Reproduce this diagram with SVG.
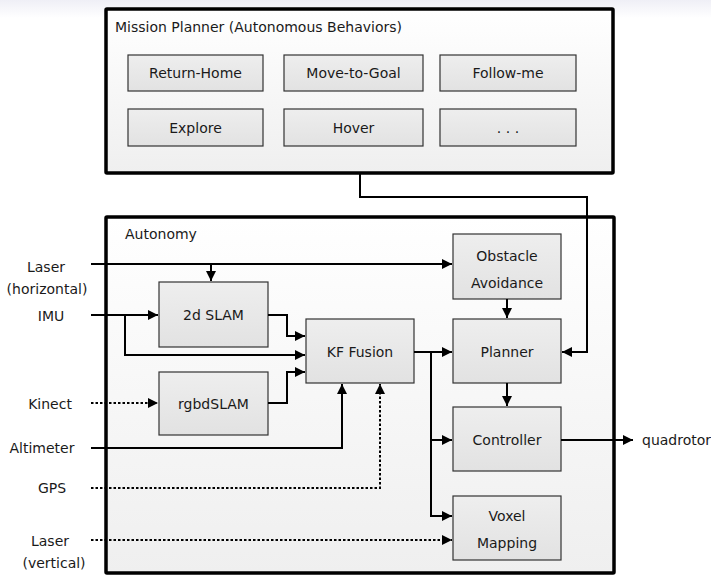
<svg xmlns="http://www.w3.org/2000/svg" width="711" height="576" viewBox="0 0 711 576">
<defs>
<linearGradient id="top" x1="0" y1="0" x2="0" y2="1"><stop offset="0" stop-color="#efeff6"/><stop offset="1" stop-color="#ffffff"/></linearGradient>
<linearGradient id="outer" x1="0" y1="0" x2="0" y2="1"><stop offset="0" stop-color="#ffffff"/><stop offset="1" stop-color="#efefef"/></linearGradient>
<linearGradient id="inner" x1="0" y1="0" x2="0" y2="1"><stop offset="0" stop-color="#eeeeee"/><stop offset="1" stop-color="#e2e2e2"/></linearGradient>
<marker id="ah" viewBox="0 0 10 10" refX="10" refY="5" markerWidth="11" markerHeight="10" markerUnits="userSpaceOnUse" orient="auto"><path d="M0,0 L10,5 L0,10 Z" fill="#000"/></marker>
</defs>
<style>
text{font-family:"DejaVu Sans","Liberation Sans",sans-serif;font-size:14px;fill:#1a1a1a}
.c{text-anchor:middle}
.outer{fill:url(#outer);stroke:#000;stroke-width:3.5}
.box{fill:url(#inner);stroke:#333;stroke-width:1.2}
.ln{fill:none;stroke:#000;stroke-width:2}
.dt{fill:none;stroke:#000;stroke-width:2;stroke-dasharray:2.5,2}
.a{marker-end:url(#ah)}
</style>
<rect x="0" y="0" width="711" height="18" fill="url(#top)"/>
<g id="mission">
<rect class="outer" x="106" y="9" width="507" height="164" rx="1"/>
<text x="115" y="32">Mission Planner (Autonomous Behaviors)</text>
</g>
<g id="return-home"><rect class="box" x="128" y="55" width="135" height="36"/><text class="c" x="195.5" y="78">Return-Home</text></g>
<g id="move-to-goal"><rect class="box" x="284" y="55" width="139" height="36"/><text class="c" x="353.5" y="78">Move-to-Goal</text></g>
<g id="follow-me"><rect class="box" x="440" y="55" width="136" height="36"/><text class="c" x="508" y="78">Follow-me</text></g>
<g id="explore"><rect class="box" x="128" y="109" width="135" height="37"/><text class="c" x="195.5" y="133">Explore</text></g>
<g id="hover"><rect class="box" x="284" y="109" width="139" height="37"/><text class="c" x="353.5" y="133">Hover</text></g>
<g id="more"><rect class="box" x="440" y="109" width="136" height="37"/><text class="c" x="508" y="133">. . .</text></g>
<g id="autonomy">
<rect class="outer" x="106" y="217" width="508" height="356" rx="1"/>
<text x="125" y="239">Autonomy</text>
</g>
<g id="slam2d"><rect class="box" x="159" y="282" width="109" height="65"/><text class="c" x="213.5" y="320">2d SLAM</text></g>
<g id="rgbdslam"><rect class="box" x="159" y="372" width="109" height="63"/><text class="c" x="213.5" y="409">rgbdSLAM</text></g>
<g id="kf"><rect class="box" x="306" y="319" width="108" height="64"/><text class="c" x="360" y="357">KF Fusion</text></g>
<g id="obstacle"><rect class="box" x="453" y="234" width="108" height="65"/><text class="c" x="507" y="261">Obstacle</text><text class="c" x="507" y="288">Avoidance</text></g>
<g id="planner"><rect class="box" x="453" y="319" width="108" height="64"/><text class="c" x="507" y="357">Planner</text></g>
<g id="controller"><rect class="box" x="453" y="407" width="108" height="64"/><text class="c" x="507" y="445">Controller</text></g>
<g id="voxel"><rect class="box" x="453" y="496" width="108" height="64"/><text class="c" x="507" y="521">Voxel</text><text class="c" x="507" y="548">Mapping</text></g>
<g id="labels">
<text class="c" x="46" y="272">Laser</text>
<text class="c" x="47" y="294">(horizontal)</text>
<text class="c" x="51" y="321">IMU</text>
<text class="c" x="50" y="409">Kinect</text>
<text class="c" x="42" y="453">Altimeter</text>
<text class="c" x="52" y="493">GPS</text>
<text class="c" x="50" y="546">Laser</text>
<text class="c" x="54" y="568">(vertical)</text>
<text x="642" y="445">quadrotor</text>
</g>
<g id="connectors">
<path class="ln a" d="M360,173 V197 H587 V352 H562"/>
<path class="ln a" d="M91,264 H452"/>
<path class="ln a" d="M211,264 V281"/>
<path class="ln a" d="M91,315 H158"/>
<path class="ln a" d="M125,315 V355 H305"/>
<path class="ln a" d="M268,315 H287 V336 H305"/>
<path class="dt a" d="M91,403 H158"/>
<path class="ln a" d="M268,403 H287 V372 H305"/>
<path class="ln a" d="M91,448 H342 V384"/>
<path class="dt a" d="M91,488 H380 V384"/>
<path class="dt a" d="M91,540 H452"/>
<path class="ln a" d="M414,352 H452"/>
<path class="ln a" d="M431,352 V440 H452"/>
<path class="ln a" d="M431,440 V516 H452"/>
<path class="ln a" d="M507,299 V318"/>
<path class="ln a" d="M507,383 V406"/>
<path class="ln a" d="M561,440 H633"/>
</g>
</svg>
